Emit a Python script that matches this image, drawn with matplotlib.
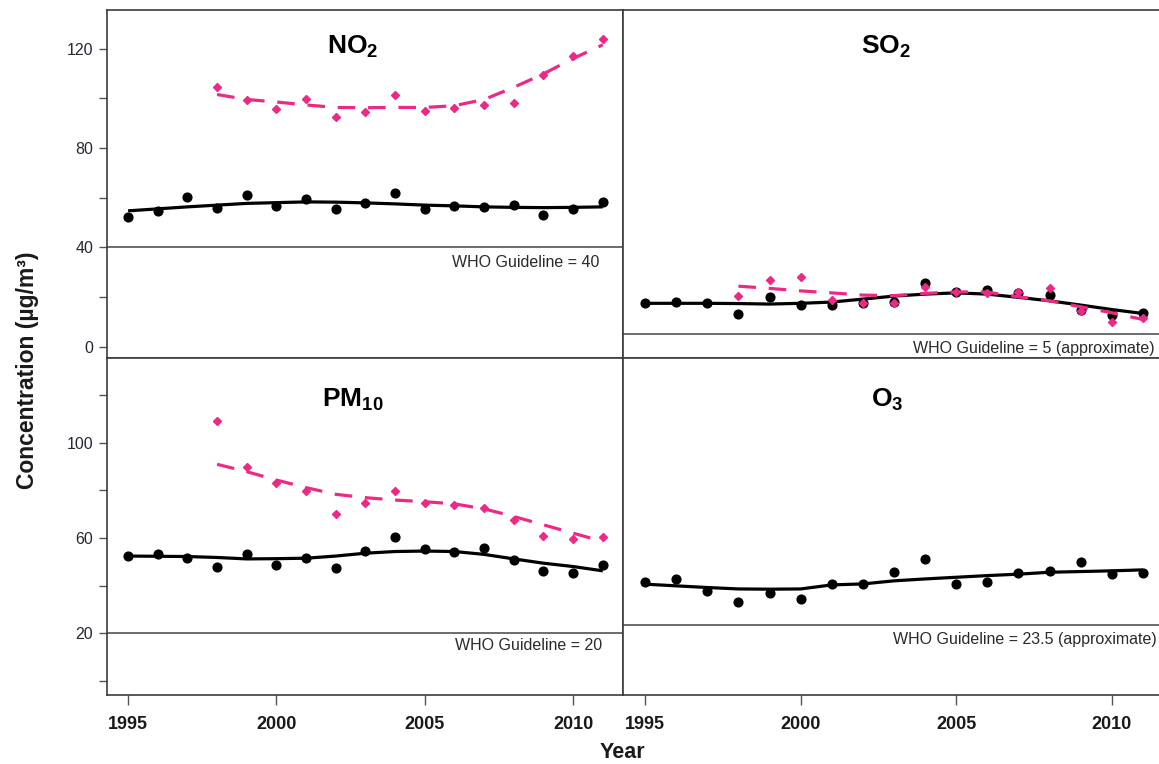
import matplotlib
matplotlib.use('Agg')
import matplotlib.pyplot as plt
from matplotlib.ticker import FixedLocator, NullFormatter

# ---------------- data ----------------
years = list(range(1995, 2012))          # black series (background sites)
years_pink = list(range(1998, 2012))     # pink series (roadside sites)

no2_black = [52.3, 54.6, 60.1, 55.7, 61.0, 56.7, 59.4, 55.3, 57.9, 61.7,
             55.3, 56.7, 56.3, 57.0, 53.0, 55.3, 58.3]
no2_black_trend = [54.7, 55.5, 56.3, 57.0, 57.7, 58.0, 58.3, 58.2, 57.9, 57.5,
                   57.0, 56.7, 56.3, 56.1, 56.0, 56.1, 56.3]
no2_pink = [104.4, 99.3, 95.5, 99.5, 92.3, 94.6, 101.3, 94.8, 95.9, 97.3,
            97.9, 109.3, 117.0, 123.8]
no2_pink_trend = [101.5, 99.5, 98.5, 97.3, 96.3, 96.2, 96.3, 96.3, 97.0, 99.5,
                  104.4, 109.8, 116.0, 121.5]

so2_black = [17.5, 18.1, 17.5, 13.4, 19.9, 16.8, 16.8, 17.5, 18.0, 25.5,
             22.1, 22.8, 21.5, 20.8, 15.0, 12.8, 13.8]
so2_black_trend = [17.5, 17.5, 17.5, 17.4, 17.2, 17.5, 18.0, 19.2, 20.4, 21.2,
                   21.7, 21.2, 19.9, 18.5, 16.8, 15.0, 13.4]
so2_pink = [20.4, 26.8, 28.2, 18.7, 17.7, 17.5, 23.9, 22.0, 21.7, 22.1,
            23.5, 14.5, 10.1, 11.4]
so2_pink_trend = [24.4, 23.5, 22.5, 21.7, 20.8, 20.6, 21.5, 22.1, 22.0, 20.1,
                  18.5, 16.1, 13.7, 11.0]

pm10_black = [52.4, 53.1, 51.7, 48.0, 53.1, 48.7, 51.7, 47.3, 54.5, 60.6,
              55.2, 54.3, 55.7, 50.8, 46.2, 45.2, 48.7]
pm10_black_trend = [52.4, 52.3, 52.2, 51.8, 51.2, 51.3, 51.5, 52.4, 53.6, 54.3,
                    54.5, 54.3, 53.1, 51.2, 49.4, 48.0, 46.2]
pm10_pink = [109.1, 89.9, 83.2, 79.7, 69.9, 74.5, 79.7, 74.5, 73.8, 72.4,
             67.6, 61.0, 59.4, 60.6]
pm10_pink_trend = [90.9, 87.8, 84.3, 81.1, 78.3, 76.9, 75.9, 75.2, 74.3, 72.2,
                   69.0, 65.5, 62.0, 58.5]

o3_black = [41.7, 42.8, 37.8, 33.3, 36.8, 34.4, 40.6, 40.6, 45.6, 51.2,
            40.6, 41.7, 45.2, 46.2, 49.8, 44.8, 45.2]
o3_black_trend = [40.6, 39.9, 39.2, 38.6, 38.5, 38.6, 40.3, 40.7, 42.0, 42.8,
                  43.5, 44.2, 44.8, 45.6, 45.9, 46.2, 46.6]

who_values = {"NO2": 40, "SO2": 5, "PM10": 20, "O3": 23.5}
who_labels = {"NO2": "WHO Guideline = 40",
              "SO2": "WHO Guideline = 5 (approximate)",
              "PM10": "WHO Guideline = 20",
              "O3": "WHO Guideline = 23.5 (approximate)"}
titles = {"NO2": r"$\mathbf{NO_2}$", "SO2": r"$\mathbf{SO_2}$",
          "PM10": r"$\mathbf{PM_{10}}$", "O3": r"$\mathbf{O_3}$"}

x_ticks = [1995, 2000, 2005, 2010]
top_labeled = [0, 40, 80, 120]
top_minor = [20, 60, 100]
bot_labeled = [20, 60, 100]
bot_minor = [0, 40, 80, 120]

# ---------------- style ----------------
plt.rcParams['mathtext.fontset'] = 'custom'
plt.rcParams['mathtext.rm'] = 'Liberation Sans'
plt.rcParams['mathtext.bf'] = 'Liberation Sans:bold'
plt.rcParams['font.family'] = ['Liberation Sans', 'DejaVu Sans']

PINK = '#EC2A86'
BLACK = '#000000'
FRAME = '#3c3c3c'
NARROW = ['Liberation Sans Narrow', 'Liberation Sans', 'DejaVu Sans']

W, H = 1159, 764
fig = plt.figure(figsize=(W / 100, H / 100), dpi=100)


def px_axes(x0, y_top, w, h):
    return fig.add_axes([x0 / W, (H - y_top - h) / H, w / W, h / H])


ax_tl = px_axes(107, 10, 516, 348)
ax_tr = px_axes(623, 10, 541, 348)
ax_bl = px_axes(107, 358, 516, 337)
ax_br = px_axes(623, 358, 541, 337)

XLIM = (1994.29, 2011.68)
YLIM_TOP = (-4.5, 135.5)
YLIM_BOT = (-5.9, 135.5)

panels = [
    (ax_tl, "NO2", no2_black, no2_black_trend, no2_pink, no2_pink_trend, YLIM_TOP,
     (0.477, 0.894), (2010.9, 34.0)),
    (ax_tr, "SO2", so2_black, so2_black_trend, so2_pink, so2_pink_trend, YLIM_TOP,
     (0.486, 0.894), (2011.38, -0.6)),
    (ax_bl, "PM10", pm10_black, pm10_black_trend, pm10_pink, pm10_pink_trend, YLIM_BOT,
     (0.477, 0.875), (2010.97, 14.7)),
    (ax_br, "O3", o3_black, o3_black_trend, None, None, YLIM_BOT,
     (0.488, 0.875), (2011.45, 17.2)),
]

for ax, key, blk, blk_t, pnk, pnk_t, ylim, tpos, wpos in panels:
    ax.set_xlim(*XLIM)
    ax.set_ylim(*ylim)
    for s in ax.spines.values():
        s.set_color(FRAME)
        s.set_linewidth(1.2)
    ax.axhline(who_values[key], color='#444444', lw=1.1, zorder=1)
    ax.text(wpos[0], wpos[1], who_labels[key], ha='right', va='center',
            fontsize=11.5, color='#2a2a2a')
    ax.text(tpos[0], tpos[1], titles[key], transform=ax.transAxes,
            ha='center', va='center', fontsize=19)
    ax.plot(years, blk, ls='none', marker='o', ms=6.3, color=BLACK, zorder=3)
    ax.plot(years, blk_t, color=BLACK, lw=2.3, zorder=3,
            solid_capstyle='butt')
    if pnk is not None:
        ax.plot(years_pink, pnk, ls='none', marker='D', ms=3.6, color=PINK, zorder=4)
        ax.plot(years_pink, pnk_t, color=PINK, lw=2.3, zorder=4,
                dashes=(5.5, 4.0))
    ax.tick_params(axis='both', which='both', direction='out', length=6,
                   width=1, color='#555555')

# y ticks (only on left panels)
for ax, lab, mn in [(ax_tl, top_labeled, top_minor), (ax_bl, bot_labeled, bot_minor)]:
    ax.yaxis.set_major_locator(FixedLocator(lab))
    ax.yaxis.set_minor_locator(FixedLocator(mn))
    ax.yaxis.set_minor_formatter(NullFormatter())
    ax.tick_params(axis='y', which='both', labelsize=11.5, labelcolor='#262633', pad=4)
for ax in (ax_tr, ax_br):
    ax.set_yticks([])

# x ticks only on bottom panels
for ax in (ax_tl, ax_tr):
    ax.set_xticks([])
for ax in (ax_bl, ax_br):
    ax.set_xticks(x_ticks)
    ax.tick_params(axis='x', length=7, pad=8)
    for lbl in ax.get_xticklabels():
        lbl.set_family(NARROW)
        lbl.set_fontweight('bold')
        lbl.set_fontsize(13)
        lbl.set_color('#1a1a1a')

fig.text(28 / W, 1 - 370 / H, "Concentration (\u00b5g/m\u00b3)", rotation=90,
         ha='center', va='center', fontsize=16.5, fontweight='bold',
         family=NARROW, color='#1a1a1a')
fig.text(622 / W, 1 - 752 / H, "Year", ha='center', va='center',
         fontsize=15.5, fontweight='bold', family=NARROW, color='#1a1a1a')

fig.savefig('out.png', dpi=100)
